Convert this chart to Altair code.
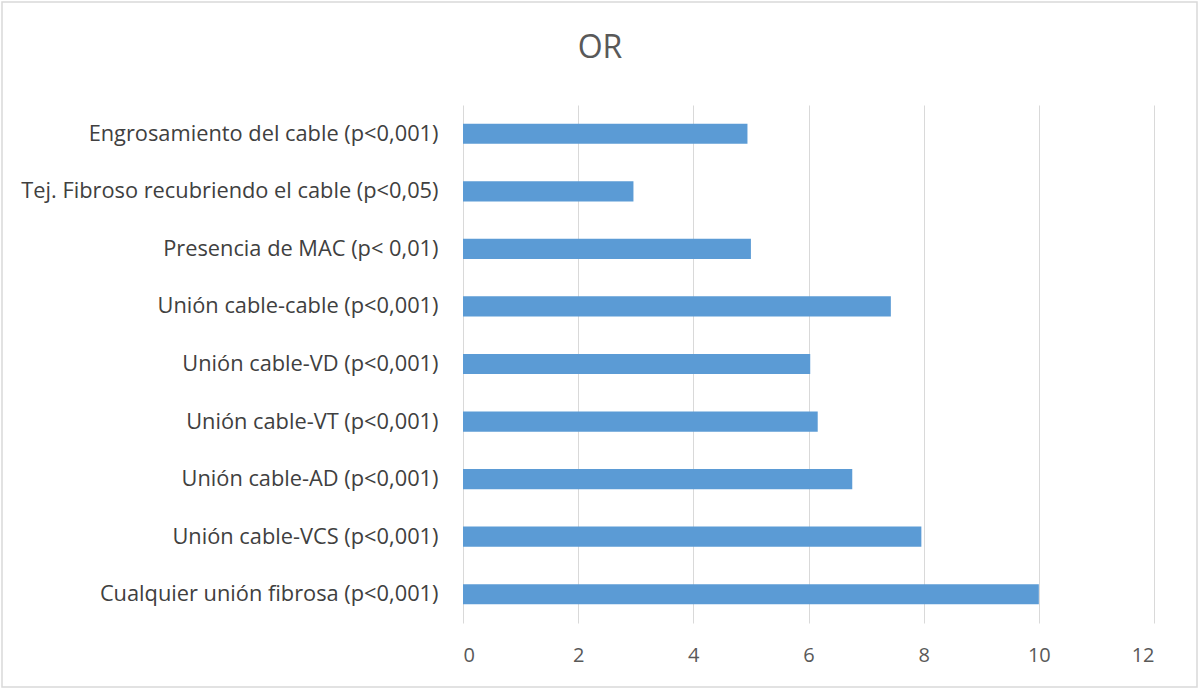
import altair as alt
import pandas as pd

categories = [
    "Engrosamiento del cable (p<0,001)",
    "Tej. Fibroso recubriendo el cable (p<0,05)",
    "Presencia de MAC (p< 0,01)",
    "Unión cable-cable (p<0,001)",
    "Unión cable-VD (p<0,001)",
    "Unión cable-VT (p<0,001)",
    "Unión cable-AD (p<0,001)",
    "Unión cable-VCS (p<0,001)",
    "Cualquier unión fibrosa (p<0,001)",
]
or_values = [4.94, 2.96, 5.0, 7.43, 6.03, 6.16, 6.76, 7.96, 10.0]
x_ticks = [0, 2, 4, 6, 8, 10, 12]
title_text = ["OR"]

df = pd.DataFrame({"cat": categories, "OR": or_values})
tdf = pd.DataFrame({"t": title_text})

FONT = "Open Sans"

bars = alt.Chart(df).mark_bar(color="#5B9BD5").encode(
    x=alt.X(
        "OR:Q",
        scale=alt.Scale(domain=[0, 12], nice=False),
        axis=alt.Axis(
            values=x_ticks,
            title=None,
            grid=True,
            gridColor="#d9d9d9",
            gridWidth=1,
            domain=False,
            ticks=False,
            labelFont=FONT,
            labelFontSize=20,
            labelColor="#595959",
            labelPadding=22,
        ),
    ),
    y=alt.Y(
        "cat:N",
        sort=categories,
        scale=alt.Scale(paddingInner=0.65, paddingOuter=0.325),
        axis=alt.Axis(
            title=None,
            domain=False,
            ticks=False,
            grid=False,
            labelFont=FONT,
            labelFontSize=21.8,
            labelColor="#404040",
            labelPadding=25,
            labelLimit=500,
        ),
    ),
)

frame = alt.Chart(tdf).mark_rect(
    fill=None, stroke="#d9d9d9", strokeWidth=1.5
).encode(
    x=alt.value(-461), x2=alt.value(734),
    y=alt.value(-103), y2=alt.value(582),
)

title = alt.Chart(tdf).mark_text(
    font=FONT, fontSize=32, color="#595959", align="center", baseline="middle"
).encode(
    text="t:N",
    x=alt.value(137),
    y=alt.value(-57),
)

chart = alt.layer(frame, bars, title).properties(
    width=691,
    height=518,
    background="white",
    autosize=alt.AutoSizeParams(type="none"),
    padding={"left": 463, "top": 105, "right": 46, "bottom": 69},
).configure_view(strokeWidth=0, stroke="transparent")

chart.save("out.html", embed_options={"renderer": "svg", "actions": False})
